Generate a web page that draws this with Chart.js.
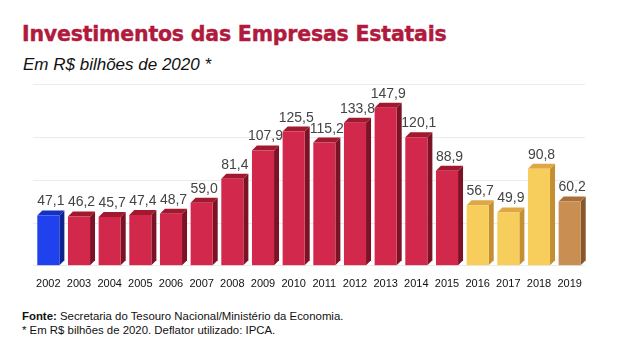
<!DOCTYPE html>
<html>
<head>
<meta charset="utf-8">
<script src="https://cdn.jsdelivr.net/npm/chart.js@4/dist/chart.umd.min.js"></script>
<style>
  html, body { margin: 0; padding: 0; background: #fff; }
  body { width: 621px; height: 358px; position: relative; overflow: hidden; font-family: "Liberation Sans", Arial, sans-serif; }
  #title { position: absolute; left: 22px; top: 22px; font-family: "DejaVu Sans", sans-serif; font-weight: bold; font-size: 20.5px; color: #b01a3c; white-space: nowrap; letter-spacing: -0.2px; -webkit-text-stroke: 0.4px #b01a3c; }
  #subtitle { position: absolute; left: 23px; top: 55px; font-style: italic; font-size: 17px; color: #111; white-space: nowrap; }
  #chartbox { position: absolute; left: 0; top: 75px; width: 621px; height: 228px; }
  #foot { position: absolute; left: 22px; top: 309px; font-size: 11.4px; line-height: 14px; color: #111; white-space: nowrap; }
</style>
</head>
<body>
<div id="title">Investimentos das Empresas Estatais</div>
<div id="subtitle">Em R$ bilhões de 2020 *</div>
<div id="chartbox"><canvas id="c"></canvas></div>
<div id="foot"><b>Fonte:</b> Secretaria do Tesouro Nacional/Ministério da Economia.<br>* Em R$ bilhões de 2020. Deflator utilizado: IPCA.</div>
<script>
const years = ["2002","2003","2004","2005","2006","2007","2008","2009","2010","2011","2012","2013","2014","2015","2016","2017","2018","2019"];
const values = [47.1, 46.2, 45.7, 47.4, 48.7, 59.0, 81.4, 107.9, 125.5, 115.2, 133.8, 147.9, 120.1, 88.9, 56.7, 49.9, 90.8, 60.2];
const groups = ["blue","red","red","red","red","red","red","red","red","red","red","red","red","red","yellow","yellow","yellow","brown"];

const palette = {
  blue:   { front: "#1f42ee", light: "#3a5cf8", top: "#1431c4", side: "#0d2490" },
  red:    { front: "#d2284b", light: "#e03a5a", top: "#a2192f", side: "#7c1226" },
  yellow: { front: "#f7cd5c", light: "#fbd96e", top: "#dfa744", side: "#c38f30" },
  brown:  { front: "#c98f52", light: "#d49c60", top: "#a9703a", side: "#85572a" }
};

const DEPTH = 5;

const bar3d = {
  id: "bar3d",
  beforeDatasetsDraw(chart) {
    const ctx = chart.ctx;
    const meta = chart.getDatasetMeta(0);
    meta.data.forEach((el, i) => {
      const p = el.getProps(["x","y","base","width"], true);
      const l = p.x - p.width / 2, r = p.x + p.width / 2;
      const col = palette[groups[i]];
      ctx.fillStyle = col.side;
      ctx.beginPath();
      ctx.moveTo(r, p.y);
      ctx.lineTo(r + DEPTH, p.y - DEPTH);
      ctx.lineTo(r + DEPTH, p.base - DEPTH);
      ctx.lineTo(r, p.base);
      ctx.closePath();
      ctx.fill();
      ctx.fillStyle = col.top;
      ctx.beginPath();
      ctx.moveTo(l, p.y);
      ctx.lineTo(l + DEPTH, p.y - DEPTH);
      ctx.lineTo(r + DEPTH, p.y - DEPTH);
      ctx.lineTo(r, p.y);
      ctx.closePath();
      ctx.fill();
    });
  },
  afterDatasetsDraw(chart) {
    const ctx = chart.ctx;
    const meta = chart.getDatasetMeta(0);
    ctx.save();
    ctx.fillStyle = "#444";
    ctx.font = '14px "Liberation Sans", Arial, sans-serif';
    ctx.textAlign = "center";
    ctx.textBaseline = "alphabetic";
    meta.data.forEach((el, i) => {
      const p = el.getProps(["x","y"], true);
      ctx.fillText(values[i].toFixed(1).replace(".", ","), p.x + DEPTH / 2, p.y - DEPTH - 5);
    });
    ctx.restore();
  }
};

function frontGradient(context) {
  const chart = context.chart;
  const col = palette[groups[context.dataIndex]];
  const el = context.element;
  if (!el || !chart.chartArea) return col.front;
  const p = el.getProps(["x","width"], true);
  if (!isFinite(p.x) || !isFinite(p.width) || p.width <= 0) return col.front;
  const g = chart.ctx.createLinearGradient(p.x - p.width / 2, 0, p.x + p.width / 2, 0);
  g.addColorStop(0, col.front);
  g.addColorStop(0.45, col.light);
  g.addColorStop(1, col.front);
  return g;
}

new Chart(document.getElementById("c"), {
  type: "bar",
  data: {
    labels: years,
    datasets: [{
      data: values,
      backgroundColor: frontGradient,
      borderWidth: 0,
      barPercentage: 0.72,
      categoryPercentage: 1
    }]
  },
  options: {
    responsive: true,
    maintainAspectRatio: false,
    animation: false,
    layout: { padding: { left: 33, right: 36, top: 9, bottom: 8 } },
    plugins: { legend: { display: false }, tooltip: { enabled: false }, title: { display: false } },
    scales: {
      x: {
        grid: { display: false },
        border: { display: false },
        ticks: { color: "#111", font: { family: '"Liberation Sans", Arial, sans-serif', size: 11 }, padding: 4, maxRotation: 0, autoSkip: false }
      },
      y: {
        min: 0, max: 170,
        ticks: { display: false, stepSize: 40 },
        border: { display: false },
        grid: { color: "#ebebeb", drawTicks: false, lineWidth: 1 }
      }
    }
  },
  plugins: [bar3d]
});
</script>
</body>
</html>
